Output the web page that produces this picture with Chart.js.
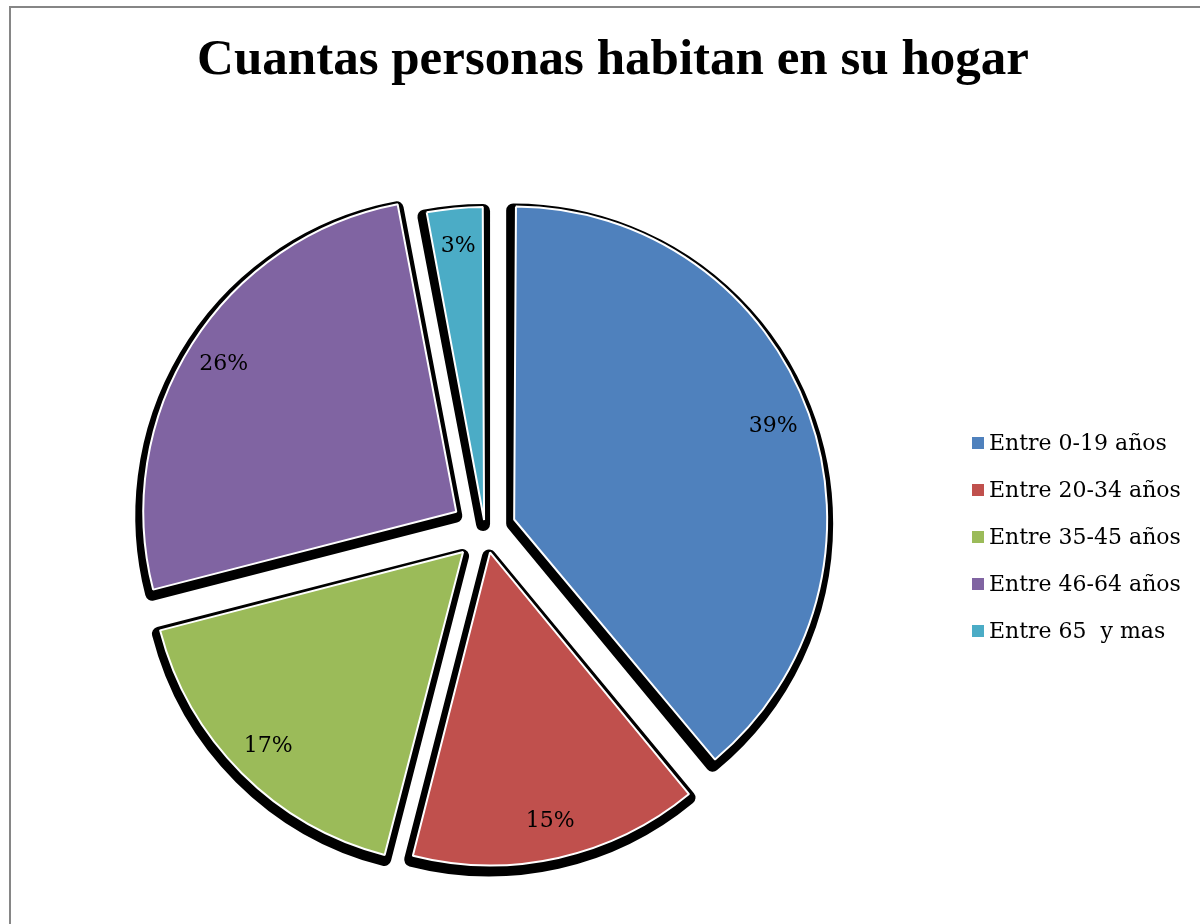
<!DOCTYPE html>
<html>
<head>
<meta charset="utf-8">
<script src="https://cdn.jsdelivr.net/npm/chart.js@4.4.1/dist/chart.umd.min.js"></script>
<style>
html,body{margin:0;padding:0;background:#fff;}
canvas{display:block;}
</style>
</head>
<body>
<canvas id="c" width="1200" height="924"></canvas>
<script>
// ---- data ----
const chartTitle = 'Cuantas personas habitan en su hogar';
const categories = ['Entre 0-19 años', 'Entre 20-34 años', 'Entre 35-45 años', 'Entre 46-64 años', 'Entre 65  y mas'];
const percentages = [39, 15, 17, 26, 3];
const sliceColors = ['#4F81BD', '#C0504D', '#9BBB59', '#8064A2', '#4BACC6'];

// ---- styling constants ----
const R = 313;
const explodePx = [31, 23, 31, 34, 10];
const LABEL_FONT = '22px "DejaVu Serif"';

function sliceGeom(arc, i) {
  const mid = (arc.startAngle + arc.endAngle) / 2;
  const d = explodePx[i];
  return { cx: arc.x + Math.cos(mid) * d, cy: arc.y + Math.sin(mid) * d, mid };
}

const excelPie = {
  id: 'excelPie',
  beforeDraw(chart) {
    const ctx = chart.ctx;
    ctx.save();
    ctx.fillStyle = '#ffffff';
    ctx.fillRect(0, 0, chart.width, chart.height);
    ctx.strokeStyle = '#868686';
    ctx.lineWidth = 2;
    ctx.strokeRect(10, 7, chart.width + 40, chart.height + 40);
    ctx.restore();
  },
  beforeDatasetsDraw(chart) {
    const meta = chart.getDatasetMeta(0);
    const ctx = chart.ctx;
    // compensate Chart.js radius growth that comes with the offset option
    meta.data.forEach((arc, i) => {
      const circ = arc.endAngle - arc.startAngle;
      const fix = 1 - Math.sin(Math.min(Math.PI, circ));
      arc.outerRadius = R - explodePx[i] * fix;
    });
    // hard black shadow behind each slice
    ctx.save();
    ctx.fillStyle = '#000';
    ctx.strokeStyle = '#000';
    ctx.lineWidth = 14;
    ctx.lineJoin = 'round';
    ctx.translate(-1, 4);
    meta.data.forEach((arc, i) => {
      const g = sliceGeom(arc, i);
      ctx.beginPath();
      ctx.moveTo(g.cx, g.cy);
      ctx.arc(g.cx, g.cy, R, arc.startAngle, arc.endAngle);
      ctx.closePath();
      ctx.fill();
      ctx.stroke();
    });
    ctx.restore();
  },
  afterDatasetsDraw(chart) {
    const meta = chart.getDatasetMeta(0);
    const ctx = chart.ctx;
    const vals = chart.data.datasets[0].data;
    ctx.save();
    ctx.font = LABEL_FONT;
    ctx.fillStyle = '#000';
    ctx.textAlign = 'center';
    ctx.textBaseline = 'middle';
    meta.data.forEach((arc, i) => {
      const g = sliceGeom(arc, i);
      const rr = R * 0.88;
      ctx.fillText(vals[i] + '%', g.cx + Math.cos(g.mid) * rr, g.cy + Math.sin(g.mid) * rr);
    });
    ctx.restore();
  },
  afterDraw(chart) {
    const ctx = chart.ctx;
    ctx.save();
    // title
    ctx.font = 'bold 51px "Liberation Serif"';
    ctx.fillStyle = '#000';
    ctx.textAlign = 'center';
    ctx.textBaseline = 'alphabetic';
    ctx.fillText(chartTitle, 613, 74);
    // legend
    ctx.font = LABEL_FONT;
    ctx.textAlign = 'left';
    ctx.textBaseline = 'middle';
    const ds = chart.data.datasets[0];
    chart.data.labels.forEach((lab, i) => {
      const y = 443 + 47 * i;
      ctx.fillStyle = ds.backgroundColor[i];
      ctx.fillRect(972, y - 6, 12, 12);
      ctx.fillStyle = '#000';
      ctx.fillText(lab, 989, y + 1);
    });
    ctx.restore();
  }
};

new Chart(document.getElementById('c'), {
  type: 'pie',
  data: {
    labels: categories,
    datasets: [{
      data: percentages,
      backgroundColor: sliceColors,
      borderColor: '#ffffff',
      borderWidth: 2,
      offset: explodePx.map(v => v * 4)
    }]
  },
  options: {
    responsive: false,
    devicePixelRatio: 1,
    animation: false,
    radius: R,
    layout: { padding: { left: 0, right: 230, top: 136, bottom: 0 } },
    plugins: {
      legend: { display: false },
      title: { display: false },
      tooltip: { enabled: false }
    }
  },
  plugins: [excelPie]
});
</script>
</body>
</html>
